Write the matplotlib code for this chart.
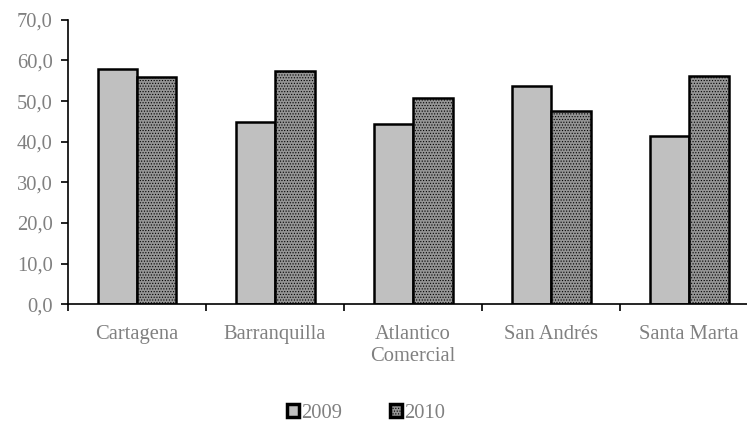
import matplotlib.pyplot as plt
import numpy as np

# values
categories = ['Cartagena', 'Barranquilla', 'Atlantico\nComercial', 'San Andrés', 'Santa Marta']
v2009 = [58.0, 44.8, 44.3, 53.6, 41.4]
v2010 = [56.0, 57.4, 50.7, 47.6, 56.3]
series_labels = ['2009', '2010']
y_ticks = [0, 10, 20, 30, 40, 50, 60, 70]

plt.rcParams['font.family'] = ['Liberation Serif', 'DejaVu Serif']
plt.rcParams['hatch.color'] = '#c8c8c8'
plt.rcParams['hatch.linewidth'] = 0.5
text_gray = '#808080'
fs = 14.8

fig = plt.figure(figsize=(7.47, 4.23), dpi=100)
ax = fig.add_axes([0.091, 0.281, 0.924, 0.672])

x = np.arange(len(categories))
w = 0.286
b1 = ax.bar(x - w / 2, v2009, w, color='#c0c0c0', edgecolor='black', linewidth=1.8,
            label=series_labels[0], zorder=2)
b2 = ax.bar(x + w / 2, v2010, w, color='#959595', edgecolor='black', linewidth=1.8,
            hatch='......', label=series_labels[1], zorder=2)

ax.set_xlim(-0.5, len(categories) - 0.5)
ax.set_ylim(0, 70)
ax.set_yticks(y_ticks)
ax.set_yticklabels([f'{v:.1f}'.replace('.', ',') for v in y_ticks])

# category labels at centres, tick marks at boundaries
ax.set_xticks(x)
ax.set_xticklabels(categories)
ax.set_xticks(np.arange(len(categories) + 1) - 0.5, minor=True)
ax.tick_params(axis='x', which='major', length=0, pad=15, labelsize=fs, labelcolor=text_gray)
ax.tick_params(axis='x', which='minor', length=5, width=1.2, direction='out')
ax.tick_params(axis='y', length=5, width=1.2, direction='out', pad=6,
               labelsize=fs, labelcolor=text_gray)

for s in ['top', 'right']:
    ax.spines[s].set_visible(False)
for s in ['left', 'bottom']:
    ax.spines[s].set_linewidth(1.2)

leg = fig.legend(handles=[b1, b2], loc='center', bbox_to_anchor=(0.49, 0.022), ncol=2,
                 frameon=False, fontsize=fs, handlelength=0.6, handleheight=0.6,
                 handletextpad=0.1, columnspacing=2.3, borderaxespad=0)
for t in leg.get_texts():
    t.set_color(text_gray)
for h in leg.legend_handles:
    h.set_linewidth(2.5)

fig.savefig('out.png', dpi=100)
